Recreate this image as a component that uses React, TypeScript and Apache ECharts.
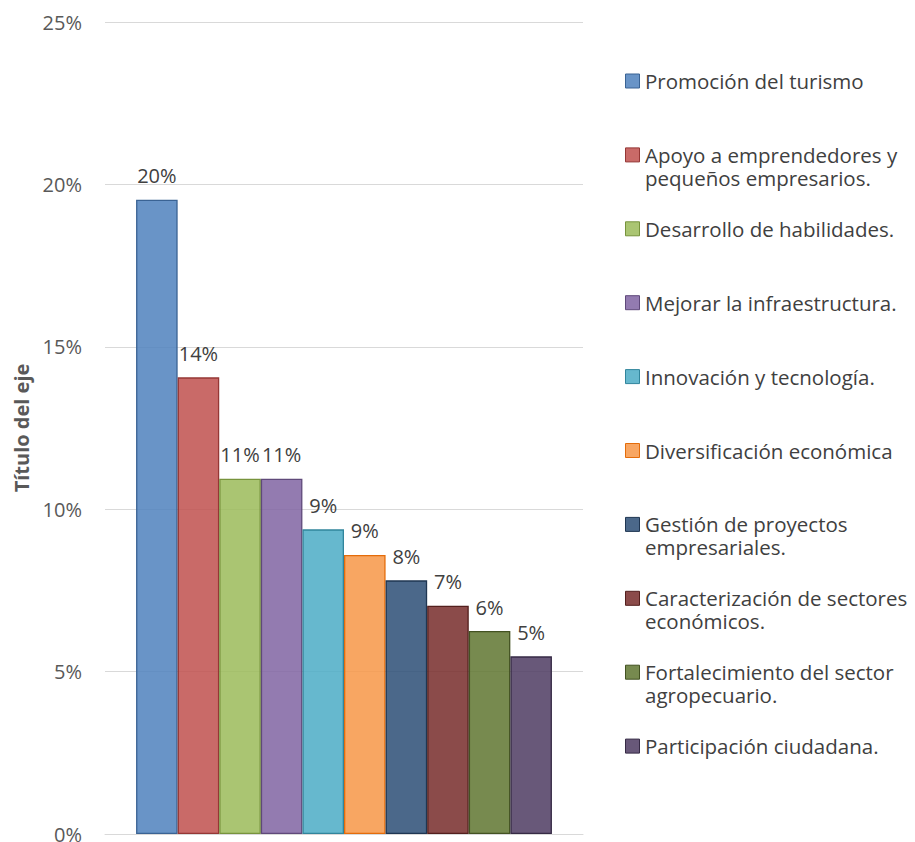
import React, { useEffect, useRef } from "react";
import * as echarts from "echarts";

const categories = [""];
const seriesNames = [
  "Promoción del turismo",
  "Apoyo a emprendedores y pequeños empresarios.",
  "Desarrollo de habilidades.",
  "Mejorar la infraestructura.",
  "Innovación y tecnología.",
  "Diversificación económica",
  "Gestión de proyectos empresariales.",
  "Caracterización de sectores económicos.",
  "Fortalecimiento del sector agropecuario.",
  "Participación ciudadana.",
];
const legendLines = [
  ["Promoción del turismo"],
  ["Apoyo a emprendedores y", "pequeños empresarios."],
  ["Desarrollo de habilidades."],
  ["Mejorar la infraestructura."],
  ["Innovación y tecnología."],
  ["Diversificación económica"],
  ["Gestión de proyectos", "empresariales."],
  ["Caracterización de sectores", "económicos."],
  ["Fortalecimiento del sector", "agropecuario."],
  ["Participación ciudadana."],
];
const values = [19.53, 14.06, 10.94, 10.94, 9.38, 8.59, 7.81, 7.03, 6.25, 5.47];
const baseColors = [
  "#4F81BD", "#C0504D", "#9BBB59", "#8064A2", "#4BACC6",
  "#F79646", "#2C4D75", "#772C2A", "#5F7530", "#4D3B62",
];
const borderColors = [
  "#3A6394", "#953735", "#77933C", "#5F497A", "#31859C",
  "#E46C0A", "#1F3652", "#531F1D", "#435222", "#362A45",
];
const yMin = 0;
const yMax = 25;
const yStep = 5;
const axisTitle = "Título del eje";

const FONT = "'Open Sans', 'Noto Sans', sans-serif";

function rgba(hex: string, a: number) {
  const n = parseInt(hex.slice(1), 16);
  return `rgba(${(n >> 16) & 255},${(n >> 8) & 255},${n & 255},${a})`;
}

export default function App() {
  const ref = useRef<HTMLDivElement>(null);
  useEffect(() => {
    if (!ref.current) return;
    const chart = echarts.init(ref.current, undefined, { renderer: "svg" });
    const legendTop = 81;
    const legendStep = 73.9;
    const lineStep = 23;
    const graphics: any[] = [];
    legendLines.forEach((lines, i) => {
      const cy = legendTop + i * legendStep;
      graphics.push({
        type: "rect",
        shape: { x: 625.5, y: cy - 7, width: 14, height: 14 },
        style: { fill: rgba(baseColors[i], 0.85), stroke: borderColors[i], lineWidth: 1 },
      });
      lines.forEach((line, j) => {
        graphics.push({
          type: "text",
          x: 645,
          y: cy + j * lineStep,
          style: {
            text: line,
            fill: "#404040",
            fontSize: 20.5,
            lineHeight: 21,
            fontFamily: FONT,
            verticalAlign: "middle",
            align: "left",
          },
        });
      });
    });
    chart.setOption({
      animation: false,
      grid: {
        left: 105,
        right: 332,
        top: 22,
        bottom: 8,
        containLabel: false,
        outerBoundsMode: "none",
      },
      xAxis: {
        type: "category",
        data: categories,
        axisLine: { show: true, lineStyle: { color: "#D9D9D9", width: 1 } },
        axisTick: { show: false },
        axisLabel: { show: false },
      },
      yAxis: {
        type: "value",
        min: yMin,
        max: yMax,
        interval: yStep,
        name: axisTitle,
        nameLocation: "middle",
        nameRotate: 90,
        nameGap: 74,
        nameTextStyle: { color: "#595959", fontSize: 20, fontWeight: "bold", fontFamily: FONT },
        axisLine: { show: false },
        axisTick: { show: false },
        axisLabel: {
          formatter: "{value}%",
          color: "#595959",
          fontSize: 20,
          lineHeight: 14,
          fontFamily: FONT,
          margin: 23,
        },
        splitLine: { lineStyle: { color: "#D9D9D9", width: 1 } },
      },
      series: seriesNames.map((name, i) => ({
        type: "bar",
        name,
        data: [values[i]],
        barGap: "0%",
        barCategoryGap: "13%",
        itemStyle: { color: rgba(baseColors[i], 0.85), borderColor: borderColors[i], borderWidth: 1.3 },
        label: {
          show: true,
          position: "top",
          distance: 14,
          formatter: (p: any) => `${Math.round(p.value)}%`,
          color: "#404040",
          fontSize: 20,
          fontFamily: FONT,
        },
      })),
      graphic: graphics,
    });
    return () => chart.dispose();
  }, []);
  return (
    <div
      ref={ref}
      style={{ position: "fixed", left: 0, top: 0, width: 915, height: 842, background: "#fff" }}
    />
  );
}
